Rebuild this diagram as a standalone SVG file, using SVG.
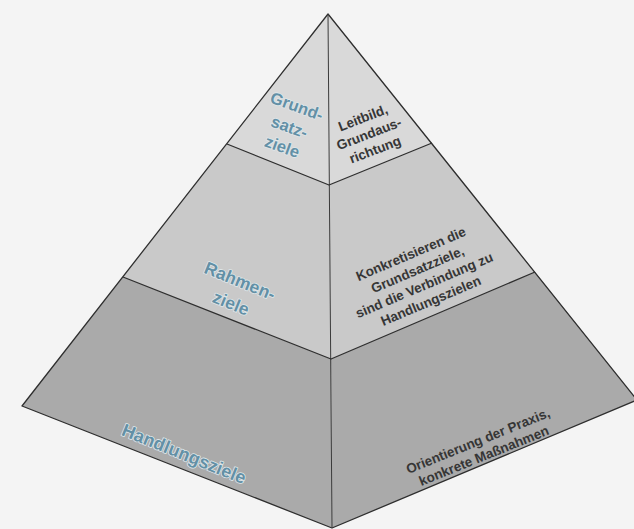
<svg xmlns="http://www.w3.org/2000/svg" width="634" height="529" viewBox="0 0 634 529">
  <style>
    .face { stroke: none; }
    .t1 { fill: #d9d9d9; }
    .t2 { fill: #c9c9c9; }
    .t3 { fill: #aaaaaa; }
    .edge { fill: none; stroke: #2e2e2e; stroke-width: 1.3; stroke-linejoin: round; }
    .mid { fill: none; stroke: #3a3a3a; stroke-width: 1; }
    .lbl { font-family: "Liberation Sans", Arial, sans-serif; font-weight: bold; fill: #6390a6; stroke: #dfe7ea; stroke-width: 1.6; paint-order: stroke; text-anchor: middle; stroke-linejoin: round; }
    .desc { font-family: "Liberation Sans", Arial, sans-serif; font-weight: bold; font-size: 13.5px; fill: #363636; text-anchor: middle; }
  </style>
  <rect x="0" y="0" width="634" height="529" fill="#f4f4f4"/>

  <g id="tier-grundsatzziele">
    <polygon class="face t1" points="328,14 227,144 329,185"/>
    <polygon class="face t1" points="328,14 329,185 432,143"/>
    <g transform="translate(297,106) rotate(20)">
      <text class="lbl" font-size="16.5" x="0" y="6">Grund-</text>
      <text class="lbl" font-size="16.5" x="0" y="28">satz-</text>
      <text class="lbl" font-size="16.5" x="0" y="49">ziele</text>
    </g>
    <g transform="translate(363,118) rotate(-21)">
      <text class="desc" x="0" y="4.5">Leitbild,</text>
      <text class="desc" x="0" y="21.5">Grundaus-</text>
      <text class="desc" x="0" y="38.5">richtung</text>
    </g>
  </g>

  <g id="tier-rahmenziele">
    <polygon class="face t2" points="227,144 123,277 331,359 329,185"/>
    <polygon class="face t2" points="329,185 331,359 535,272 432,143"/>
    <g transform="translate(240,281) rotate(22)">
      <text class="lbl" font-size="17.5" x="0" y="6">Rahmen-</text>
      <text class="lbl" font-size="17.5" x="0" y="30">ziele</text>
    </g>
    <g transform="translate(411,254) rotate(-23)">
      <text class="desc" x="0" y="4.5">Konkretisieren die</text>
      <text class="desc" x="0" y="21.5">Grundsatzziele,</text>
      <text class="desc" x="0" y="38.5">sind die Verbindung zu</text>
      <text class="desc" x="0" y="55.5">Handlungszielen</text>
    </g>
  </g>

  <g id="tier-handlungsziele">
    <polygon class="face t3" points="123,277 22,406 332,528 331,359"/>
    <polygon class="face t3" points="331,359 332,528 637,400 535,272"/>
    <g transform="translate(184,454) rotate(22)">
      <text class="lbl" font-size="18" x="0" y="6">Handlungsziele</text>
    </g>
    <g transform="translate(478,441) rotate(-22)">
      <text class="desc" x="0" y="4.5">Orientierung der Praxis,</text>
      <text class="desc" x="0" y="20.5">konkrete Maßnahmen</text>
    </g>
  </g>

  <g id="connectors">
    <polygon class="edge" points="328,14 22,406 332,528 637,400"/>
    <line class="mid" x1="328" y1="14" x2="332" y2="528"/>
    <polyline class="edge" points="227,144 329,185 432,143"/>
    <polyline class="edge" points="123,277 331,359 535,272"/>
  </g>
</svg>
